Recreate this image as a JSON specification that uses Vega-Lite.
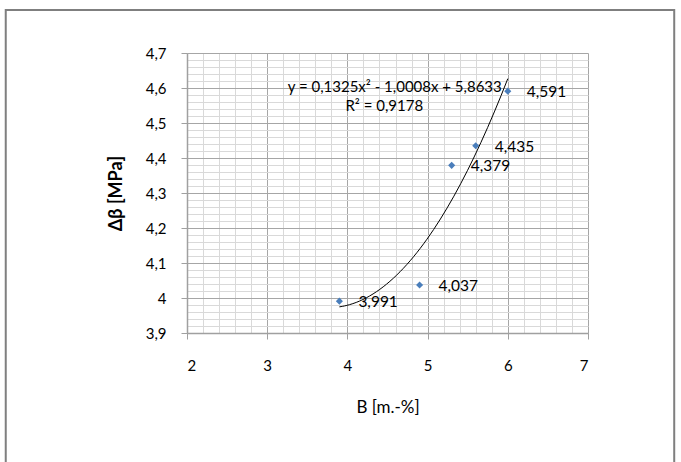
{
  "$schema": "https://vega.github.io/schema/vega-lite/v6.json",
  "width": 401,
  "height": 280,
  "autosize": "none",
  "padding": {"left": 187, "top": 53, "right": 93, "bottom": 129},
  "background": "white",
  "config": {
    "view": {"stroke": null},
    "font": "Lato",
    "locale": {"number": {"decimal": ",", "thousands": ".", "grouping": [3], "currency": ["", " €"]}}
  },
  "datasets": {
    "pts": [
      {"B": 3.9, "dbeta": 3.991},
      {"B": 4.9, "dbeta": 4.037},
      {"B": 5.3, "dbeta": 4.379},
      {"B": 5.6, "dbeta": 4.435},
      {"B": 6.0, "dbeta": 4.591}
    ]
  },
  "resolve": {"axis": {"x": "independent", "y": "independent"}},
  "layer": [
    {
      "data": {"values": [{}]},
      "mark": {"type": "rect", "fill": null, "stroke": "#7f7f7f", "strokeWidth": 2, "clip": false},
      "encoding": {
        "x": {"datum": -0.26, "type": "quantitative", "scale": {"domain": [2, 7], "nice": false, "zero": false}, "axis": null},
        "x2": {"datum": 8.075},
        "y": {"datum": 4.823, "type": "quantitative", "scale": {"domain": [3.9, 4.7], "nice": false, "zero": false}, "axis": null},
        "y2": {"datum": 3.5}
      }
    },
    {
      "data": {"name": "pts"},
      "mark": {"type": "point", "shape": "diamond", "filled": true, "color": "#4a7ebb", "opacity": 1, "size": 50},
      "encoding": {
        "x": {
          "field": "B", "type": "quantitative",
          "scale": {"domain": [2, 7], "nice": false, "zero": false},
          "axis": {
            "orient": "bottom", "title": null, "labels": false, "ticks": false, "domain": false,
            "grid": true, "gridColor": "#d9d9d9", "gridWidth": 1,
            "values": [2, 2.2, 2.4, 2.6, 2.8, 3, 3.2, 3.4, 3.6, 3.8, 4, 4.2, 4.4, 4.6, 4.8, 5, 5.2, 5.4, 5.6, 5.8, 6, 6.2, 6.4, 6.6, 6.8, 7]
          }
        },
        "y": {
          "field": "dbeta", "type": "quantitative",
          "scale": {"domain": [3.9, 4.7], "nice": false, "zero": false},
          "axis": {
            "orient": "left", "title": null, "labels": false, "ticks": false, "domain": false,
            "grid": true, "gridColor": "#d9d9d9", "gridWidth": 1,
            "values": [3.9, 3.92, 3.94, 3.96, 3.98, 4, 4.02, 4.04, 4.06, 4.08, 4.1, 4.12, 4.14, 4.16, 4.18, 4.2, 4.22, 4.24, 4.26, 4.28, 4.3, 4.32, 4.34, 4.36, 4.38, 4.4, 4.42, 4.44, 4.46, 4.48, 4.5, 4.52, 4.54, 4.56, 4.58, 4.6, 4.62, 4.64, 4.66, 4.68, 4.7]
          }
        }
      }
    },
    {
      "data": {"name": "pts"},
      "transform": [
        {"regression": "dbeta", "on": "B", "method": "poly", "order": 2, "extent": [3.9, 6.0]}
      ],
      "mark": {"type": "line", "color": "#000000", "strokeWidth": 1},
      "encoding": {
        "x": {
          "field": "B", "type": "quantitative",
          "scale": {"domain": [2, 7], "nice": false, "zero": false},
          "axis": {
            "orient": "bottom", "title": "B [m.-%]", "values": [2, 3, 4, 5, 6, 7], "format": "~g",
            "grid": true, "gridColor": "#a6a6a6", "gridWidth": 1,
            "domain": true, "domainColor": "#a0a0a0", "domainWidth": 1.5,
            "ticks": true, "tickColor": "#a0a0a0", "tickSize": 6,
            "labelFont": "Lato", "labelFontSize": 15, "labelColor": "#000000", "labelPadding": 19,
            "titleFont": "Lato", "titleFontSize": 17, "titleFontWeight": "normal", "titleColor": "#000000", "titlePadding": 26
          }
        },
        "y": {
          "field": "dbeta", "type": "quantitative",
          "scale": {"domain": [3.9, 4.7], "nice": false, "zero": false},
          "axis": {
            "orient": "left", "title": "Δβ [MPa]", "values": [3.9, 4, 4.1, 4.2, 4.3, 4.4, 4.5, 4.6, 4.7], "format": ".1~f",
            "grid": true, "gridColor": "#a6a6a6", "gridWidth": 1,
            "domain": true, "domainColor": "#a0a0a0", "domainWidth": 1.5,
            "ticks": true, "tickColor": "#a0a0a0", "tickSize": 6,
            "labelFont": "Lato", "labelFontSize": 15, "labelColor": "#000000", "labelPadding": 15,
            "titleFont": "Lato", "titleFontSize": 18, "titleFontWeight": "bold", "titleColor": "#000000", "titlePadding": 20
          }
        }
      }
    },
    {
      "data": {"name": "pts"},
      "mark": {"type": "text", "align": "left", "baseline": "middle", "dx": 19, "dy": 1, "fontSize": 15.5, "font": "Lato", "color": "#000000"},
      "encoding": {
        "x": {"field": "B", "type": "quantitative", "axis": null},
        "y": {"field": "dbeta", "type": "quantitative", "axis": null},
        "text": {"field": "dbeta", "type": "quantitative", "format": ".3f"}
      }
    },
    {
      "data": {"values": [{}]},
      "mark": {"type": "text", "align": "center", "baseline": "middle", "fontSize": 15, "font": "Lato", "color": "#000000"},
      "encoding": {
        "x": {"datum": 4.59, "type": "quantitative", "axis": null},
        "y": {"datum": 4.604, "type": "quantitative", "axis": null},
        "text": {"value": "y = 0,1325x² - 1,0008x + 5,8633"}
      }
    },
    {
      "data": {"values": [{}]},
      "mark": {"type": "text", "align": "center", "baseline": "middle", "fontSize": 15, "font": "Lato", "color": "#000000"},
      "encoding": {
        "x": {"datum": 4.46, "type": "quantitative", "axis": null},
        "y": {"datum": 4.549, "type": "quantitative", "axis": null},
        "text": {"value": "R² = 0,9178"}
      }
    }
  ]
}
